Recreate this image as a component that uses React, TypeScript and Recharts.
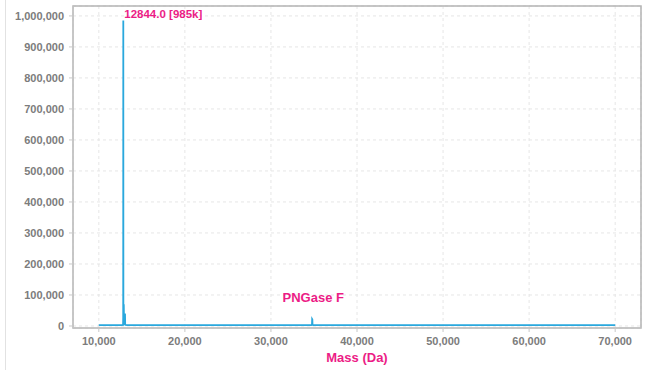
import { LineChart, Line, XAxis, YAxis, CartesianGrid, ReferenceArea, ReferenceDot } from 'recharts';

// deconvoluted spectrum, mass (Da) vs intensity
const MASSES = [10000, 12700, 12820, 12835, 12844, 12853, 12870, 12900, 12930, 12990, 13030, 13045, 13060, 13120, 13300, 34700, 34770, 34790, 34810, 34830, 34900, 70000];
const INTENSITIES = [3000, 3000, 4000, 30000, 985000, 30000, 5000, 70000, 5000, 6000, 40000, 38000, 6000, 3500, 3000, 3000, 4000, 22000, 21000, 4000, 3000, 3000];

const X_TICKS = [10000, 20000, 30000, 40000, 50000, 60000, 70000];
const Y_TICKS = [0, 100000, 200000, 300000, 400000, 500000, 600000, 700000, 800000, 900000, 1000000];

const MAIN_PEAK = { mass: 12844, intensity: 985000 };
const ENZYME_PEAK = { mass: 34800, intensity: 22000, name: 'PNGase F' };

const X_DOMAIN = [7000, 73000];
const Y_DOMAIN = [-6500, 1032000];

const PINK = '#ec1c86';
const BLUE = '#2aa8dd';
const FONT = 'Liberation Sans, Arial, sans-serif';
const TICK_FONT = { fill: '#7c7c7c', fontSize: 11, fontWeight: 700, fontFamily: FONT };

const data = MASSES.map((m, i) => ({ mass: m, intensity: INTENSITIES[i] }));

const fmt = (v: number) => v.toLocaleString('en-US');

export default function App() {
    const peakLabel = `${MAIN_PEAK.mass.toFixed(1)} [${Math.round(MAIN_PEAK.intensity / 1000)}k]`;

    return (
        <div style={{ position: 'absolute', left: 0, top: 0, width: 648, height: 370, background: '#fff' }}>
            <div style={{ position: 'absolute', left: 5, top: 0, width: 0, height: 370, borderLeft: '1px solid #e2e2e2' }} />
            <LineChart width={648} height={370} data={data} margin={{ top: 6, right: 7, left: 8, bottom: 0 }}>
                <CartesianGrid stroke="#e6e6e6" strokeDasharray="3 3" />
                <XAxis
                    dataKey="mass"
                    type="number"
                    domain={X_DOMAIN}
                    ticks={X_TICKS}
                    tickFormatter={fmt}
                    height={42}
                    tickSize={4}
                    tickMargin={5}
                    tick={TICK_FONT}
                    stroke="#c8c8c8"
                    allowDataOverflow
                    label={{
                        value: 'Mass (Da)',
                        position: 'insideBottom',
                        offset: 8,
                        fill: PINK,
                        fontSize: 13,
                        fontWeight: 700,
                        fontFamily: FONT,
                    }}
                />
                <YAxis
                    type="number"
                    domain={Y_DOMAIN}
                    ticks={Y_TICKS}
                    tickFormatter={fmt}
                    width={65}
                    tickSize={4}
                    tickMargin={5}
                    tick={TICK_FONT}
                    stroke="#c8c8c8"
                    allowDataOverflow
                />
                <ReferenceArea
                    x1={X_DOMAIN[0]}
                    x2={X_DOMAIN[1]}
                    y1={Y_DOMAIN[0]}
                    y2={Y_DOMAIN[1]}
                    fill="none"
                    stroke="#b4b4b4"
                    strokeWidth={1.5}
                    fillOpacity={0}
                    strokeOpacity={1}
                />
                <Line
                    type="linear"
                    dataKey="intensity"
                    stroke={BLUE}
                    strokeWidth={1.8}
                    dot={false}
                    isAnimationActive={false}
                />
                <ReferenceDot
                    x={MAIN_PEAK.mass}
                    y={MAIN_PEAK.intensity}
                    r={0}
                    label={(props: any) => (
                        <text
                            x={props.viewBox.x + 1}
                            y={props.viewBox.y - 3}
                            fill={PINK}
                            fontSize={11.5}
                            fontWeight={700}
                            fontFamily={FONT}
                        >
                            {peakLabel}
                        </text>
                    )}
                />
                <ReferenceDot
                    x={ENZYME_PEAK.mass}
                    y={ENZYME_PEAK.intensity}
                    r={0}
                    label={(props: any) => (
                        <text
                            x={props.viewBox.x + 1}
                            y={props.viewBox.y - 17}
                            textAnchor="middle"
                            fill={PINK}
                            fontSize={13}
                            fontWeight={700}
                            fontFamily={FONT}
                        >
                            {ENZYME_PEAK.name}
                        </text>
                    )}
                />
            </LineChart>
        </div>
    );
}
